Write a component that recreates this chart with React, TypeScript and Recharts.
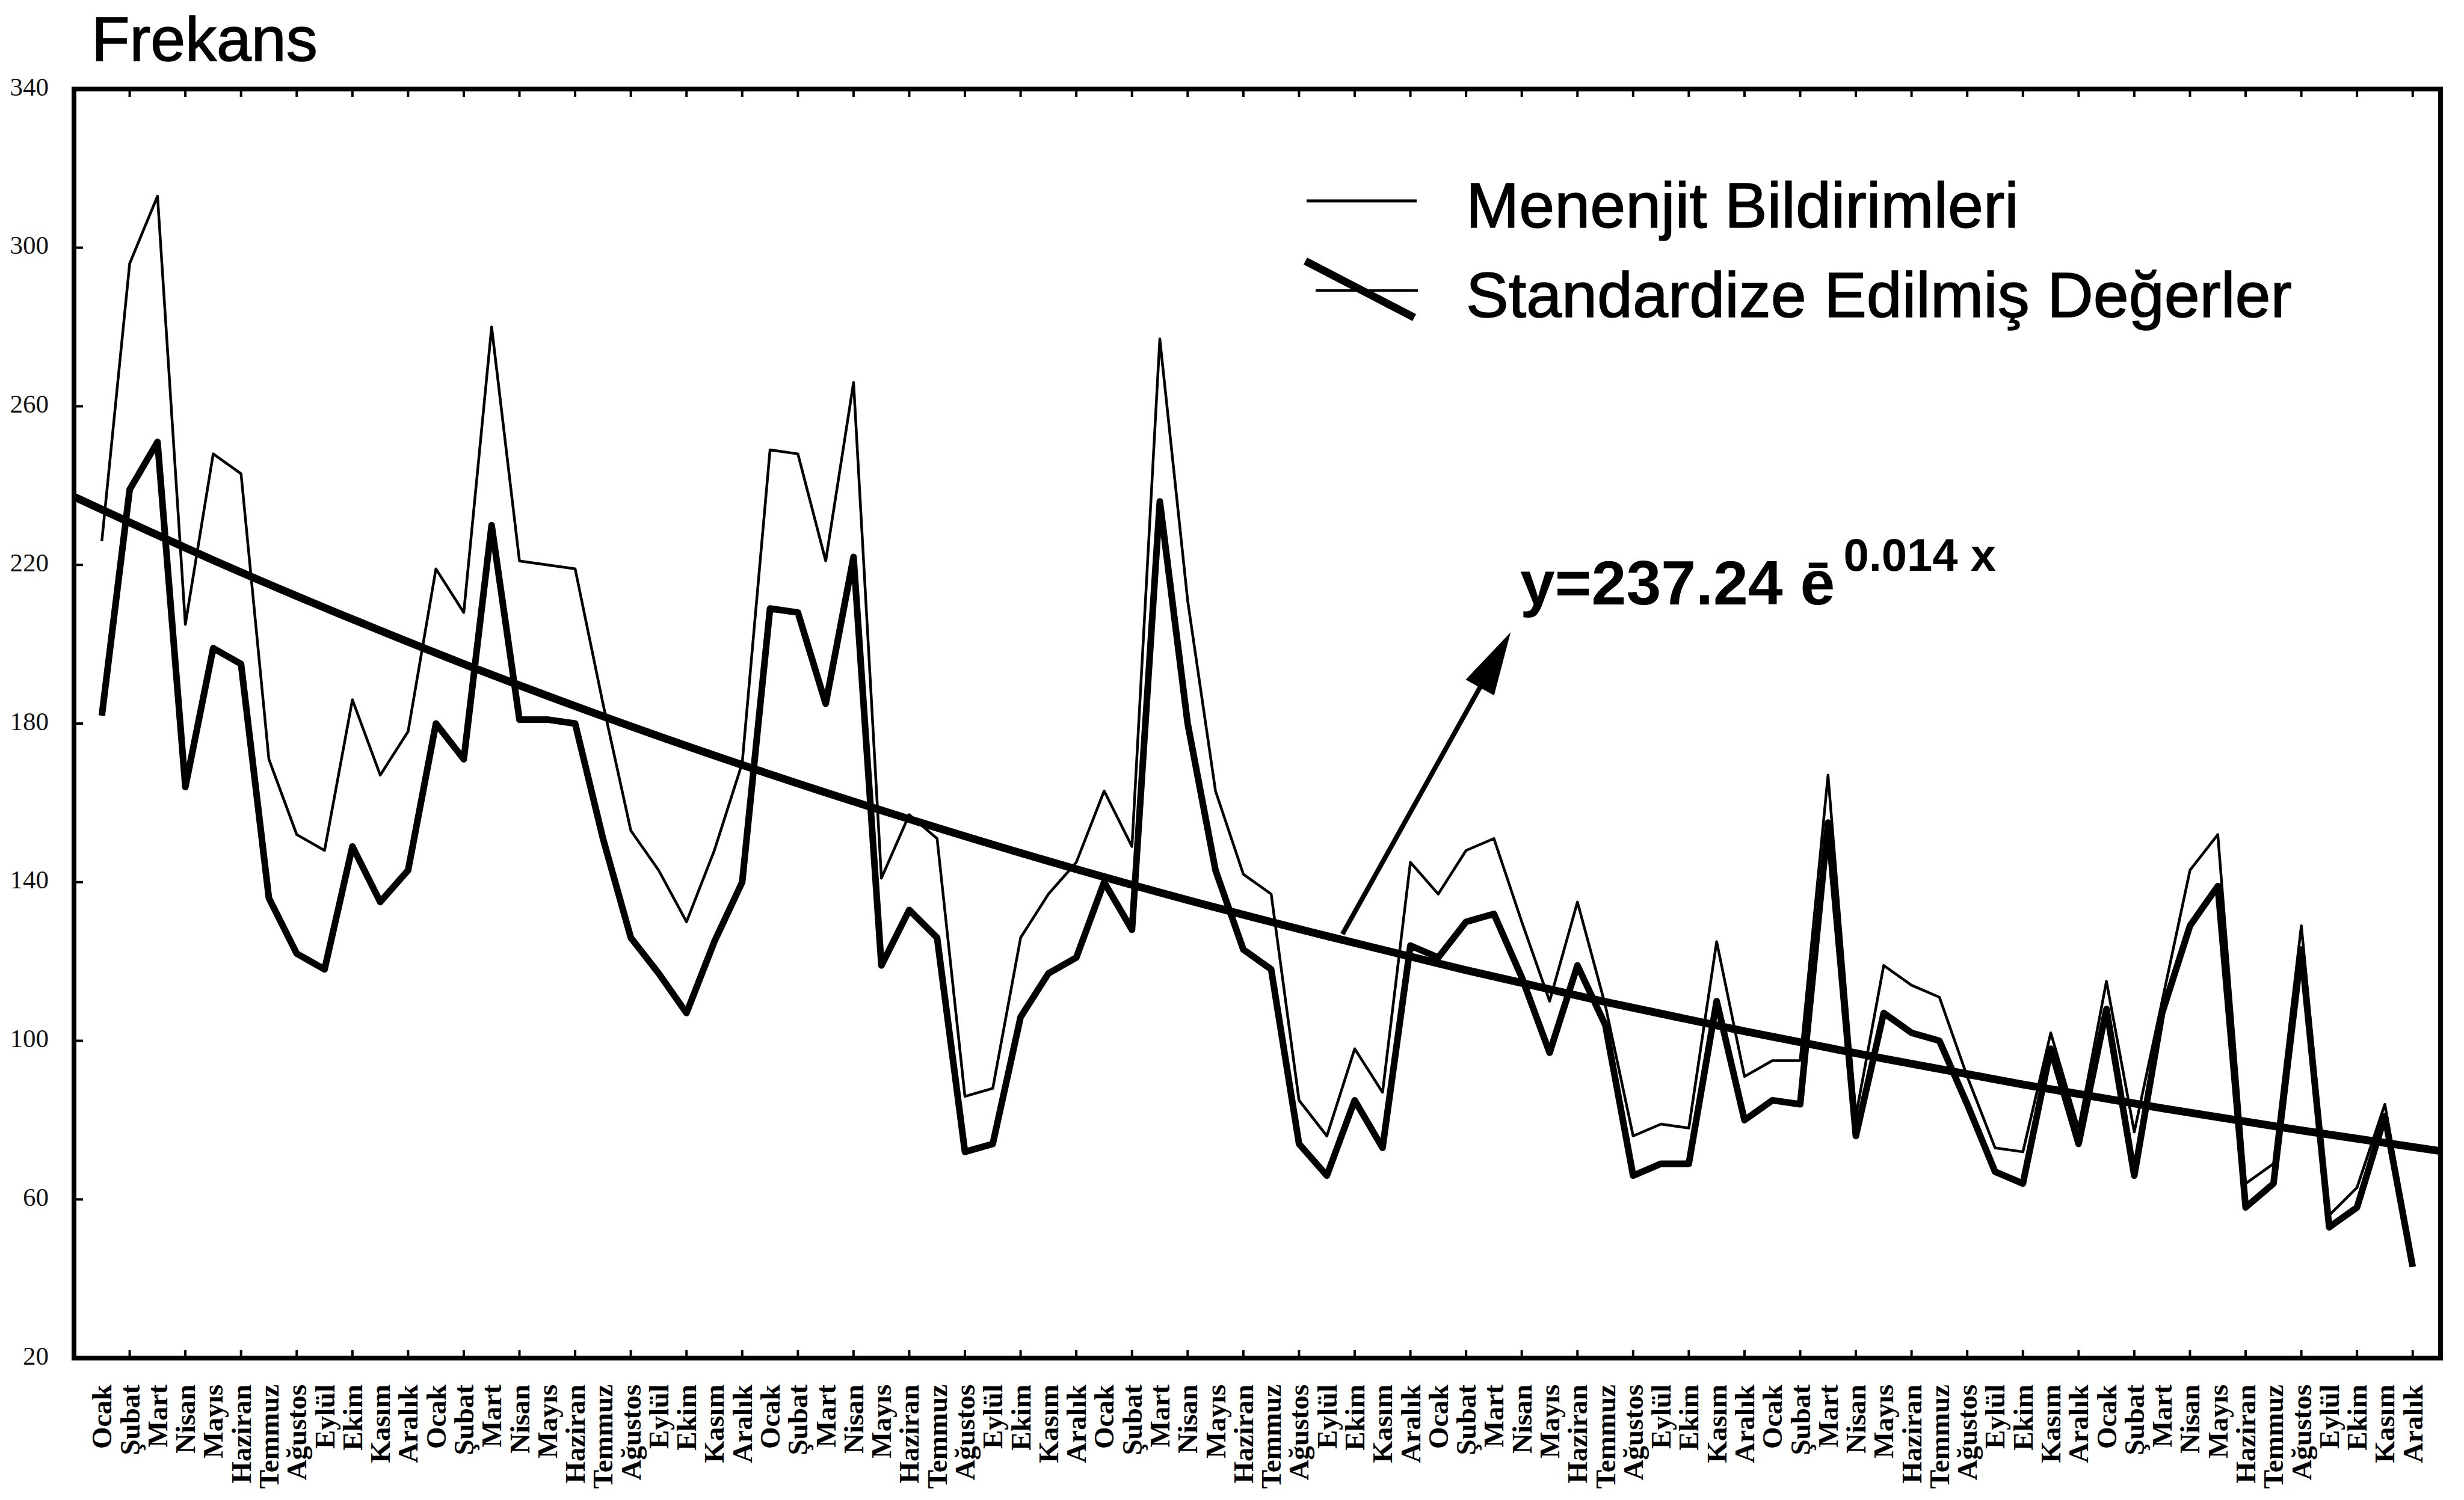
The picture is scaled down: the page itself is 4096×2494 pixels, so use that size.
import React from 'react';
import { LineChart, Line, XAxis, YAxis, ReferenceArea, ReferenceLine, Legend } from 'recharts';

// ---- data ----
const MONTHS = ['Ocak', 'Şubat', 'Mart', 'Nisan', 'Mayıs', 'Haziran', 'Temmuz', 'Ağustos', 'Eylül', 'Ekim', 'Kasım', 'Aralık'];
const YEAR_COUNT = 7;

const menenjit = [
  226, 296, 313, 205, 248, 243, 171, 152, 148, 186, 167, 178,
  219, 208, 280, 221, 220, 219, 185, 153, 143, 130, 148, 170,
  249, 248, 221, 266, 141, 157, 151, 86, 88, 126, 137, 145,
  163, 149, 277, 211, 163, 142, 137, 85, 76, 98, 87, 145,
  137, 148, 151, 130, 110, 135, 109, 76, 79, 78, 125, 91,
  95, 95, 167, 81, 119, 114, 111, 91, 73, 72, 102, 78,
  115, 77, 110, 143, 152, 64, 69, 129, 56, 63, 84, 43,
];

const standardize = [
  182, 239, 251, 164, 199, 195, 136, 122, 118, 149, 135, 143,
  180, 171, 230, 181, 181, 180, 151, 126, 117, 107, 125, 140,
  209, 208, 185, 222, 119, 133, 126, 72, 74, 106, 117, 121,
  140, 128, 236, 180, 143, 123, 118, 74, 66, 85, 73, 124,
  121, 130, 132, 116, 97, 119, 104, 66, 69, 69, 110, 80,
  85, 84, 155, 76, 107, 102, 100, 84, 67, 64, 98, 74,
  108, 66, 107, 129, 139, 58, 64, 123, 53, 58, 81, 43,
];

// fitted curve y = 237.24 e^(-0.014 t), read at t = 0,5,...,85 (t = month index + 1)
const trendT = [-1, 4, 9, 14, 19, 24, 29, 34, 39, 44, 49, 54, 59, 64, 69, 74, 79, 84];
const trendValues = [237.2, 221.2, 206.3, 192.3, 179.3, 167.2, 155.9, 145.3, 135.5, 126.4, 117.8, 109.8, 102.4, 95.5, 89.0, 83.0, 77.4, 72.2];

const yTicks = [20, 60, 100, 140, 180, 220, 260, 300, 340];

// annotation arrow (data units)
const arrowFrom = { x: 44.56, y: 126.9 };
const arrowTo = { x: 50.6, y: 203 };

const monthLabels: string[] = [];
for (let y = 0; y < YEAR_COUNT; y++) MONTHS.forEach((m) => monthLabels.push(m));

const data = menenjit.map((v, i) => ({ x: i, menenjit: v, standardize: standardize[i] }));
const trendData = trendT.map((t, i) => ({ x: t, trend: trendValues[i] }));
const xTicks = data.map((d) => d.x);
const oddTicks = xTicks.filter((i) => i % 2 === 1);

const SERIF = "'Liberation Serif', 'DejaVu Serif', serif";
const SANS = "'Liberation Sans', Arial, sans-serif";

const BottomTick = (props: any) => {
  const { x, y, payload } = props;
  const i = payload.value as number;
  const ty = y + 44;
  return (
    <g>
      {i % 2 === 1 && <line x1={x} x2={x} y1={y} y2={y - 13} stroke="#000" strokeWidth={4} />}
      <text
        x={x}
        y={ty}
        transform={`rotate(-90 ${x} ${ty})`}
        textAnchor="end"
        dominantBaseline="central"
        fontFamily={SERIF}
        fontWeight="bold"
        fontSize={47}
        fill="#000"
      >
        {monthLabels[i]}
      </text>
    </g>
  );
};

const TopTick = (props: any) => {
  const { x, y } = props;
  return <line x1={x} x2={x} y1={y} y2={y + 13} stroke="#000" strokeWidth={4} />;
};

const LeftTick = (props: any) => {
  const { x, y, payload } = props;
  return (
    <g>
      <line x1={x} x2={x + 15} y1={y} y2={y} stroke="#000" strokeWidth={4} />
      <text x={x - 42} y={y - 4} textAnchor="end" dominantBaseline="central" fontFamily={SERIF} fontSize={43} fill="#111">
        {payload.value}
      </text>
    </g>
  );
};

const RightTick = (props: any) => {
  const { x, y } = props;
  return <line x1={x} x2={x - 15} y1={y} y2={y} stroke="#000" strokeWidth={4} />;
};

const ArrowShape = (p: any) => {
  const { x1, y1, x2, y2 } = p;
  const dx = x2 - x1;
  const dy = y2 - y1;
  const len = Math.hypot(dx, dy) || 1;
  const ux = dx / len;
  const uy = dy / len;
  const headLen = 105;
  const halfW = 27;
  const bx = x2 - ux * headLen;
  const by = y2 - uy * headLen;
  const px = -uy;
  const py = ux;
  return (
    <g>
      <line x1={x1} y1={y1} x2={bx + ux * 10} y2={by + uy * 10} stroke="#000" strokeWidth={8} />
      <polygon
        points={`${x2},${y2} ${bx + px * halfW},${by + py * halfW} ${bx - px * halfW},${by - py * halfW}`}
        fill="#000"
      />
    </g>
  );
};

const LEG_LEFT = 2100;
const LEG_TOP = 260;

const LegendContent = () => (
  <svg width={1800} height={320} style={{ display: 'block', overflow: 'visible' }}>
    <g transform={`translate(${-LEG_LEFT}, ${-LEG_TOP})`}>
      <line x1={2172} x2={2355} y1={334} y2={334} stroke="#000" strokeWidth={5} />
      <text x={2437} y={378} fontFamily={SANS} fontSize={106} fill="#000" stroke="#000" strokeWidth={1.5}>
        Menenjit Bildirimleri
      </text>
      <line x1={2187} x2={2357} y1={483} y2={483} stroke="#000" strokeWidth={4} />
      <line x1={2170} x2={2351} y1={434} y2={528} stroke="#000" strokeWidth={13} />
      <text x={2437} y={527} fontFamily={SANS} fontSize={106} fill="#000" stroke="#000" strokeWidth={1.5}>
        Standardize Edilmiş Değerler
      </text>
    </g>
  </svg>
);

export default function App() {
  return (
    <div style={{ position: 'absolute', left: 0, top: 0, width: 4096, height: 2494, background: '#fff' }}>
      <LineChart
        width={4096}
        height={2494}
        data={data}
        margin={{ top: 147, right: 38, bottom: 235, left: 122 }}
        style={{ fontFamily: SANS }}
      >
        <XAxis
          dataKey="x"
          type="number"
          domain={[-1, 84]}
          ticks={xTicks}
          interval={0}
          height={1}
          axisLine={false}
          tickLine={false}
          tickSize={0}
          tickMargin={0}
          tick={<BottomTick />}
          allowDecimals={false}
        />
        <XAxis
          xAxisId="top"
          orientation="top"
          dataKey="x"
          type="number"
          domain={[-1, 84]}
          ticks={oddTicks}
          interval={0}
          height={1}
          axisLine={false}
          tickLine={false}
          tickSize={0}
          tickMargin={0}
          tick={<TopTick />}
        />
        <YAxis
          type="number"
          domain={[20, 340]}
          ticks={yTicks}
          interval={0}
          width={1}
          axisLine={false}
          tickLine={false}
          tickSize={0}
          tickMargin={0}
          tick={<LeftTick />}
        />
        <YAxis
          yAxisId="r"
          orientation="right"
          type="number"
          domain={[20, 340]}
          ticks={yTicks}
          interval={0}
          width={1}
          axisLine={false}
          tickLine={false}
          tickSize={0}
          tickMargin={0}
          tick={<RightTick />}
        />
        <ReferenceArea x1={-1} x2={84} y1={20} y2={340} fill="none" stroke="#000" strokeWidth={8} />
        <Line
          name="Menenjit Bildirimleri"
          dataKey="menenjit"
          type="linear"
          stroke="#000"
          strokeWidth={4.5}
          dot={false}
          isAnimationActive={false}
          strokeLinejoin="round"
        />
        <Line
          name="Standardize Edilmiş Değerler"
          dataKey="standardize"
          type="linear"
          stroke="#000"
          strokeWidth={11}
          dot={false}
          isAnimationActive={false}
          strokeLinejoin="round"
        />
        <Line
          name="Trend"
          data={trendData}
          dataKey="trend"
          type="monotone"
          stroke="#000"
          strokeWidth={13}
          dot={false}
          isAnimationActive={false}
          legendType="none"
        />
        <ReferenceLine segment={[arrowFrom, arrowTo]} shape={<ArrowShape />} ifOverflow="visible" />
        <Legend
          layout="horizontal"
          verticalAlign="middle"
          align="center"
          content={<LegendContent />}
          wrapperStyle={{ position: 'absolute', left: LEG_LEFT, top: LEG_TOP, width: 1800, height: 320 }}
        />
      </LineChart>
      <svg
        width={4096}
        height={2494}
        style={{ position: 'absolute', left: 0, top: 0, pointerEvents: 'none' }}
      >
        <text x={152} y={101} fontFamily={SANS} fontSize={104} fill="#000" stroke="#000" strokeWidth={1.5}>
          Frekans
        </text>
        <text x={2527} y={1005} fontFamily={SANS} fontWeight="bold" fontSize={104} fill="#000">
          y=237.24 ē
          <tspan dx={14} dy={-56} fontSize={76}>0.014 x</tspan>
        </text>
      </svg>
    </div>
  );
}
